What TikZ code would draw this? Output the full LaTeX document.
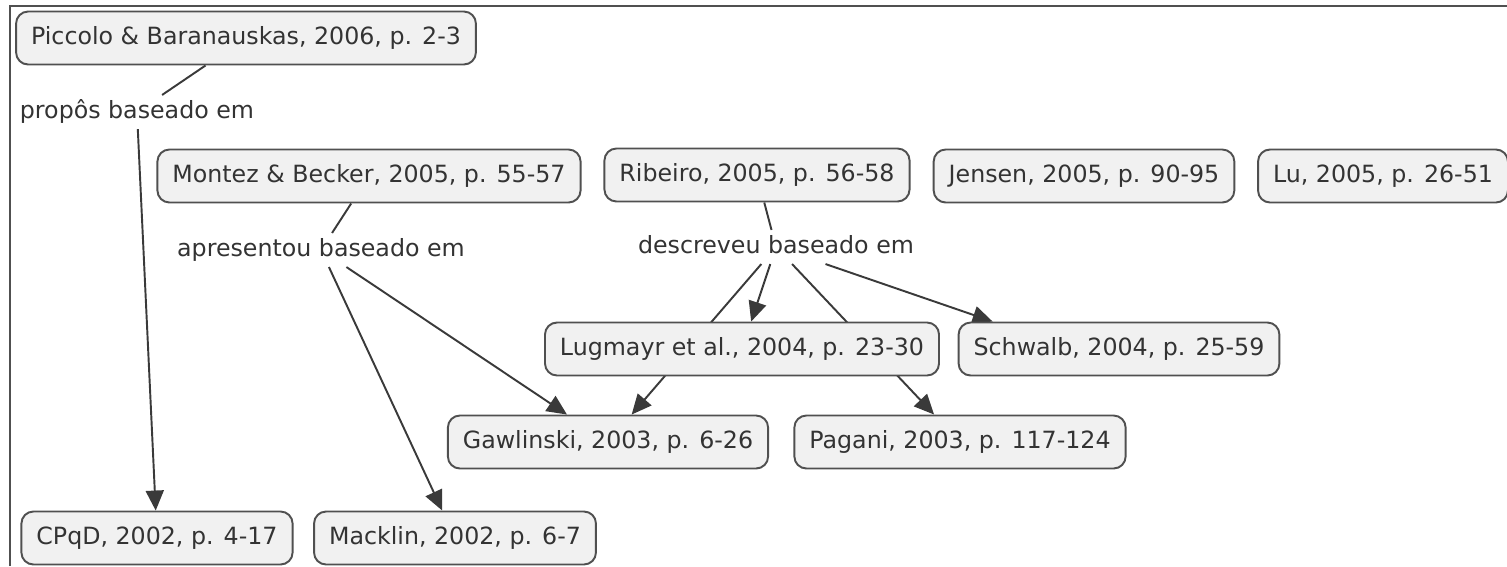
\documentclass[tikz,border=0pt]{standalone}
\usepackage{fontspec}
\setmainfont{DejaVu Sans}
\usetikzlibrary{arrows.meta,backgrounds}
\definecolor{boxfill}{HTML}{F1F1F1}
\definecolor{boxline}{HTML}{505050}
\definecolor{inkgray}{HTML}{333333}
\definecolor{linkgray}{HTML}{3A3A3A}
\tikzset{
  concept/.style={draw=boxline, line width=1.1pt, fill=boxfill, rounded corners=0.24cm, text=inkgray,
    font=\fontsize{13.5}{16}\selectfont, minimum height=1.06cm, inner xsep=0.3cm, text height=10pt, text depth=3pt},
  phrase/.style={text=inkgray, font=\fontsize{13.5}{16}\selectfont, inner xsep=2pt, inner ysep=3pt,
    text height=10pt, text depth=3pt},
  link/.style={draw=linkgray, line width=1.1pt},
  linkto/.style={link, -{Triangle[length=0.4cm,width=0.36cm]}}
}
\begin{document}
\begin{tikzpicture}[x=0.02cm, y=-0.02cm]
\useasboundingbox (0,0) rectangle (1507,566);
\draw[boxline, line width=1.1pt] (10,566) -- (10,6) -- (1507,6);
\node[concept] (piccolo) at (246,38) {Piccolo \& Baranauskas, 2006, p. 2-3};
\node[phrase] (propos) at (137,112) {propôs baseado em};
\node[concept] (montez) at (369,176) {Montez \& Becker, 2005, p. 55-57};
\node[concept] (ribeiro) at (757,175) {Ribeiro, 2005, p. 56-58};
\node[concept] (jensen) at (1084,176) {Jensen, 2005, p. 90-95};
\node[concept] (lu) at (1383,176) {Lu, 2005, p. 26-51};
\node[phrase] (apresentou) at (321,250) {apresentou baseado em};
\node[phrase] (descreveu) at (776,247) {descreveu baseado em};
\node[concept] (lugmayr) at (742,349) {Lugmayr et al., 2004, p. 23-30};
\node[concept] (schwalb) at (1119,349) {Schwalb, 2004, p. 25-59};
\node[concept] (gawlinski) at (608,442) {Gawlinski, 2003, p. 6-26};
\node[concept] (pagani) at (960,442) {Pagani, 2003, p. 117-124};
\node[concept] (cpqd) at (157,538) {CPqD, 2002, p. 4-17};
\node[concept] (macklin) at (455,538) {Macklin, 2002, p. 6-7};
\begin{pgfonlayer}{background}
\draw[link] (piccolo) -- (propos);
\draw[linkto] (propos) -- (cpqd);
\draw[link] (montez) -- (apresentou);
\draw[linkto] (apresentou) -- (macklin);
\draw[linkto] (apresentou) -- (gawlinski);
\draw[link] (ribeiro) -- (descreveu);
\draw[linkto] (descreveu) -- (lugmayr);
\draw[linkto] (descreveu) -- (gawlinski);
\draw[linkto] (descreveu) -- (pagani);
\draw[linkto] (descreveu) -- ([xshift=0.7cm]schwalb.north west);
\end{pgfonlayer}
\end{tikzpicture}
\end{document}
